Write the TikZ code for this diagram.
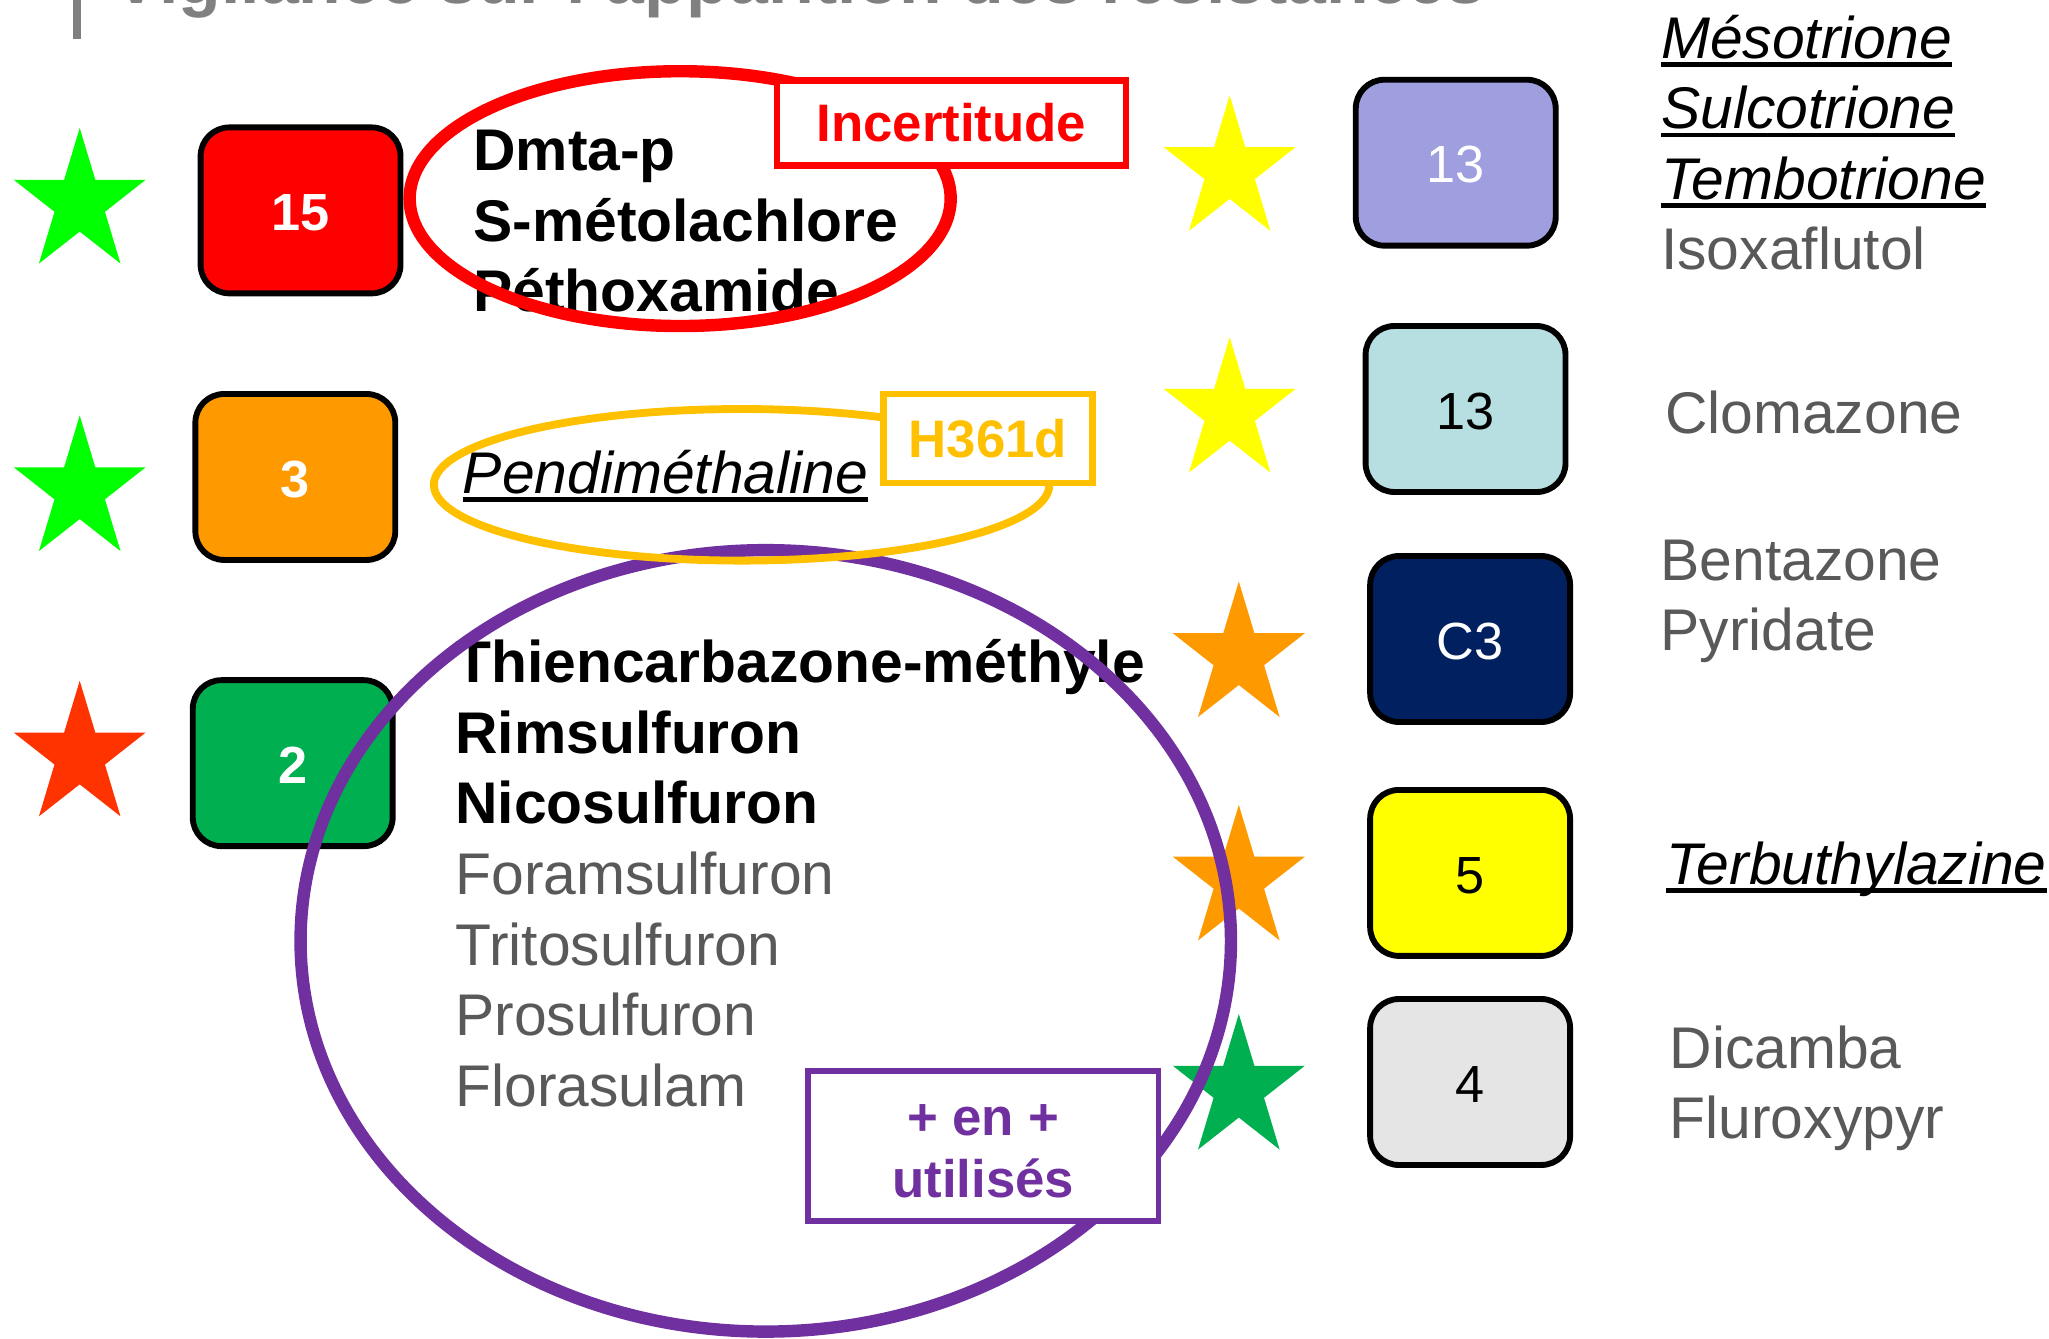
\documentclass[tikz,border=0pt]{standalone}
\usepackage{fontspec}
\setmainfont{Liberation Sans}
\usetikzlibrary{shapes.geometric}
\definecolor{cgray}{HTML}{595959}
\definecolor{ctitle}{HTML}{808080}
\definecolor{cpurple}{HTML}{7030A0}
\definecolor{camber}{HTML}{FFC000}
\definecolor{corange}{HTML}{FF9900}
\definecolor{cgreen}{HTML}{00B050}
\definecolor{clav}{HTML}{9F9FDF}
\definecolor{cpale}{HTML}{B7DEE0}
\definecolor{cnavy}{HTML}{002060}
\definecolor{clight}{HTML}{E5E5E5}
\definecolor{cyell}{HTML}{FFFF00}
\definecolor{clime}{HTML}{00FF00}
\definecolor{cscarlet}{HTML}{FF3300}
\newsavebox\ulbox
\newcommand\ulx[1]{\sbox\ulbox{#1}\rlap{\rule[-6.5pt]{\wd\ulbox}{3.6pt}}\usebox\ulbox}
\newcommand\starat[4]{%
  \coordinate (#1) at (#2,#3);
  \fill[#4,shift={(#2,#3)},yscale=1.08] (90:53.1pt)--(54:20.3pt)--(18:53.1pt)--(-18:20.3pt)--(-54:53.1pt)--(-90:20.3pt)--(-126:53.1pt)--(-162:20.3pt)--(162:53.1pt)--(126:20.3pt)--cycle;}
\tikzset{
  x=1pt,y=-1pt,
  numbox/.style={rectangle,rounded corners=22pt,draw=black,line width=4.5pt,fill=#1,minimum width=153pt,minimum height=127pt,inner sep=0pt,text height=31pt,text depth=0pt,font=\fontsize{40}{48}\selectfont},
  listtext/.style={anchor=base west,align=left,inner sep=0pt,font=\fontsize{45}{54}\selectfont},
  ring/.style={ellipse,draw=#1,inner sep=0pt,fill=none},
  tagbox/.style={rectangle,draw=#1,text=#1,fill=white,line width=5pt,inner sep=0pt,align=center,font=\fontsize{40.4}{47}\selectfont\bfseries},
}
\begin{document}
\begin{tikzpicture}
\useasboundingbox (0,0) rectangle (1568,1024);
\clip (0,0) rectangle (1568,1024);
% title
\fill[ctitle] (56,0) rectangle (62,30);
\node[anchor=base west,inner sep=0pt,text=ctitle,font=\fontsize{53.4}{60}\selectfont\bfseries] (title) at (87,3) {Vigilance sur l'apparition des résistances};
% stars
\starat{s1}{61}{155.3}{clime}
\starat{s2}{61}{375.3}{clime}
\starat{s3}{61}{578.3}{cscarlet}
\starat{s4}{941}{130.3}{cyell}
\starat{s5}{941}{315.3}{cyell}
\starat{s6}{948}{502.3}{corange}
\starat{s7}{948}{673.3}{corange}
\starat{s8}{948}{833.3}{cgreen}
% boxes
\node[numbox=red,text=white,font=\fontsize{40}{48}\selectfont\bfseries] (b15) at (230,161) {15};
\node[numbox=corange,text=white,font=\fontsize{40}{48}\selectfont\bfseries] (b3) at (226,365) {3};
\node[numbox=cgreen,text=white,font=\fontsize{40}{48}\selectfont\bfseries] (b2) at (224,584) {2};
\node[numbox=clav,text=white] (b13a) at (1114,124.5) {13};
\node[numbox=cpale] (b13b) at (1121.5,313) {13};
\node[numbox=cnavy,text=white] (bc3) at (1125,489) {C3};
\node[numbox=cyell] (b5) at (1125,668) {5};
\node[numbox=clight] (b4) at (1125,828) {4};
% texts
\node[listtext,font=\fontsize{45}{54}\selectfont\bfseries] (t1) at (362,238.5) {Dmta-p\\S-métolachlore\\Péthoxamide};
\node[listtext,font=\fontsize{45}{54}\selectfont\itshape] (t2) at (354,377.5) {\ulx{Pendiméthaline}};
\node[listtext] (t3) at (348.3,846.5) {\textbf{Thiencarbazone-méthyle}\\\textbf{Rimsulfuron}\\\textbf{Nicosulfuron}\\\textcolor{cgray}{Foramsulfuron}\\\textcolor{cgray}{Tritosulfuron}\\\textcolor{cgray}{Prosulfuron}\\\textcolor{cgray}{Florasulam}};
\node[listtext] (t4) at (1271,206.5) {\textit{\ulx{Mésotrione}}\\\textit{\ulx{Sulcotrione}}\\\textit{\ulx{Tembotrione}}\\\textcolor{cgray}{Isoxaflutol}};
\node[listtext,text=cgray] (t5) at (1274,332) {Clomazone};
\node[listtext,text=cgray] (t6) at (1270.5,498) {Bentazone\\Pyridate};
\node[listtext,font=\fontsize{45}{54}\selectfont\itshape] (t7) at (1275,677) {\ulx{Terbuthylazine}};
\node[listtext,text=cgray] (t8) at (1277.5,871.5) {Dicamba\\Fluroxypyr};
% rings
\node[ring=cpurple,line width=9.5pt,minimum width=712pt,minimum height=598pt] (r3) at (586,720) {};
\node[ring=red,line width=9.5pt,minimum width=414pt,minimum height=195pt] (r1) at (520.5,152) {};
\node[ring=camber,line width=6pt,minimum width=471pt,minimum height=116pt] (r2) at (567.5,371) {};
% tags
\node[tagbox=red,minimum width=267pt,minimum height=65pt] (tag1) at (728,94) {Incertitude};
\node[tagbox=camber,minimum width=160pt,minimum height=68pt] (tag2) at (756,335.5) {H361d};
\node[tagbox=cpurple,line width=4.5pt,minimum width=268pt,minimum height=115pt] (tag3) at (752.5,877) {\rule{0pt}{32pt}+ en +\\utilisés};
\end{tikzpicture}
\end{document}
